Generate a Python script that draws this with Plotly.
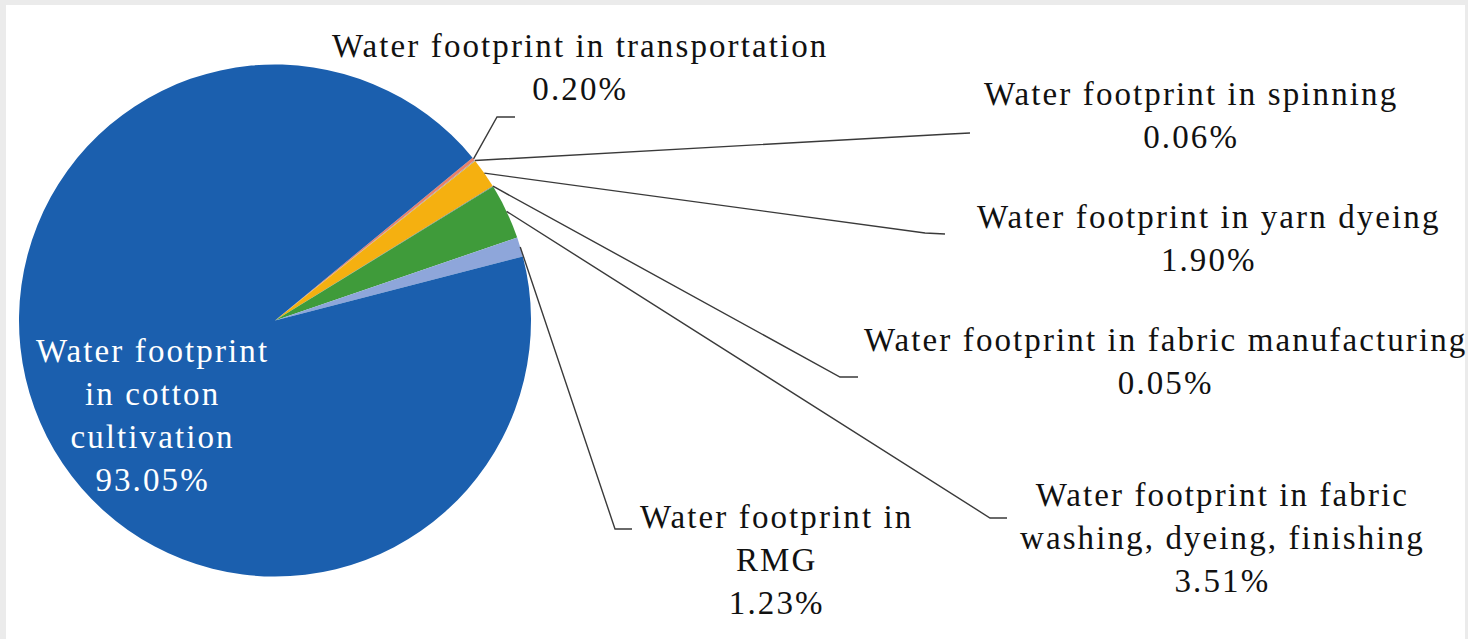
import math
import plotly.graph_objects as go

# Share of total water footprint by stage (percent)
stages = [
    "Water footprint in transportation",
    "Water footprint in spinning",
    "Water footprint in yarn dyeing",
    "Water footprint in fabric manufacturing",
    "Water footprint in fabric washing, dyeing, finishing",
    "Water footprint in RMG",
    "Water footprint in cotton cultivation",
]
shares = [0.20, 0.06, 1.90, 0.05, 3.51, 1.23, 93.05]
colors = ["#e8806a", "#a5a5a5", "#f5b010", "#7f7f7f", "#3f9b3a", "#8ea6da", "#1b5fae"]

# Label text lines (wrapped) for each stage
label_lines = [
    ["Water footprint in transportation"],
    ["Water footprint in spinning"],
    ["Water footprint in yarn dyeing"],
    ["Water footprint in fabric manufacturing"],
    ["Water footprint in fabric", "washing, dyeing, finishing"],
    ["Water footprint in", "RMG"],
    ["Water footprint", "in cotton", "cultivation"],
]

W, H = 1468, 639
CX, CY, R = 275.0, 320.5, 256.0   # pie centre and radius in pixels
ROTATION = 50.5                    # start angle, degrees clockwise from 12 o'clock

# label centres (pixels) and leader-line bend points (pixels)
label_pos = [(580, 68), (1191, 116), (1209, 238), (1165, 361), (1222, 538), (776, 560), (152, 415)]
leader_bends = [
    [(497, 117), (515, 117)],
    [(950, 134), (970, 133)],
    [(925, 233), (945, 234)],
    [(840, 377), (858, 377)],
    [(990, 518), (1007, 518)],
    [(615, 529), (632, 529)],
    None,
]


def px(x):
    return x / W


def py(y):
    return 1 - y / H


def spaced(line):
    return f'<span style="letter-spacing:2.1px">{line}</span>'


fig = go.Figure()
fig.add_trace(go.Pie(
    labels=stages,
    values=shares,
    sort=False,
    direction="clockwise",
    rotation=ROTATION,
    marker=dict(colors=colors, line=dict(width=0)),
    textinfo="none",
    hoverinfo="label+percent",
    showlegend=False,
    domain=dict(x=[px(CX - R), px(CX + R)], y=[py(CY + R), py(CY - R)]),
))

shapes = [
    # white card on the light grey page
    dict(type="rect", xref="paper", yref="paper", x0=px(6), x1=px(1465), y0=py(639), y1=py(5),
         fillcolor="white", line=dict(width=0), layer="below"),
]
annotations = []
total = sum(shares)
cum = 0.0
for i, v in enumerate(shares):
    mid = ROTATION + (cum + v / 2) / total * 360.0
    cum += v
    text_lines = label_lines[i] + [f"{v:.2f}%"]
    lx, ly = label_pos[i]
    is_inside = leader_bends[i] is None
    annotations.append(dict(
        x=px(lx), y=py(ly), xref="paper", yref="paper",
        text="<br>".join(spaced(t) for t in text_lines), showarrow=False,
        xanchor="center", yanchor="middle", align="center",
        font=dict(family="Liberation Serif", size=33, color="white" if is_inside else "#111111"),
    ))
    if not is_inside:
        a = math.radians(mid)
        ex, ey = CX + R * math.sin(a), CY - R * math.cos(a)
        pts = [(ex, ey)] + leader_bends[i]
        path = "M " + " L ".join(f"{px(x):.5f},{py(y):.5f}" for x, y in pts)
        shapes.append(dict(type="path", xref="paper", yref="paper", path=path,
                           line=dict(color="#3a3a3a", width=1.4)))

fig.update_layout(
    width=W, height=H,
    margin=dict(l=0, r=0, t=0, b=0),
    paper_bgcolor="#ebebeb",
    shapes=shapes,
    annotations=annotations,
)

fig.write_html("out.html")
